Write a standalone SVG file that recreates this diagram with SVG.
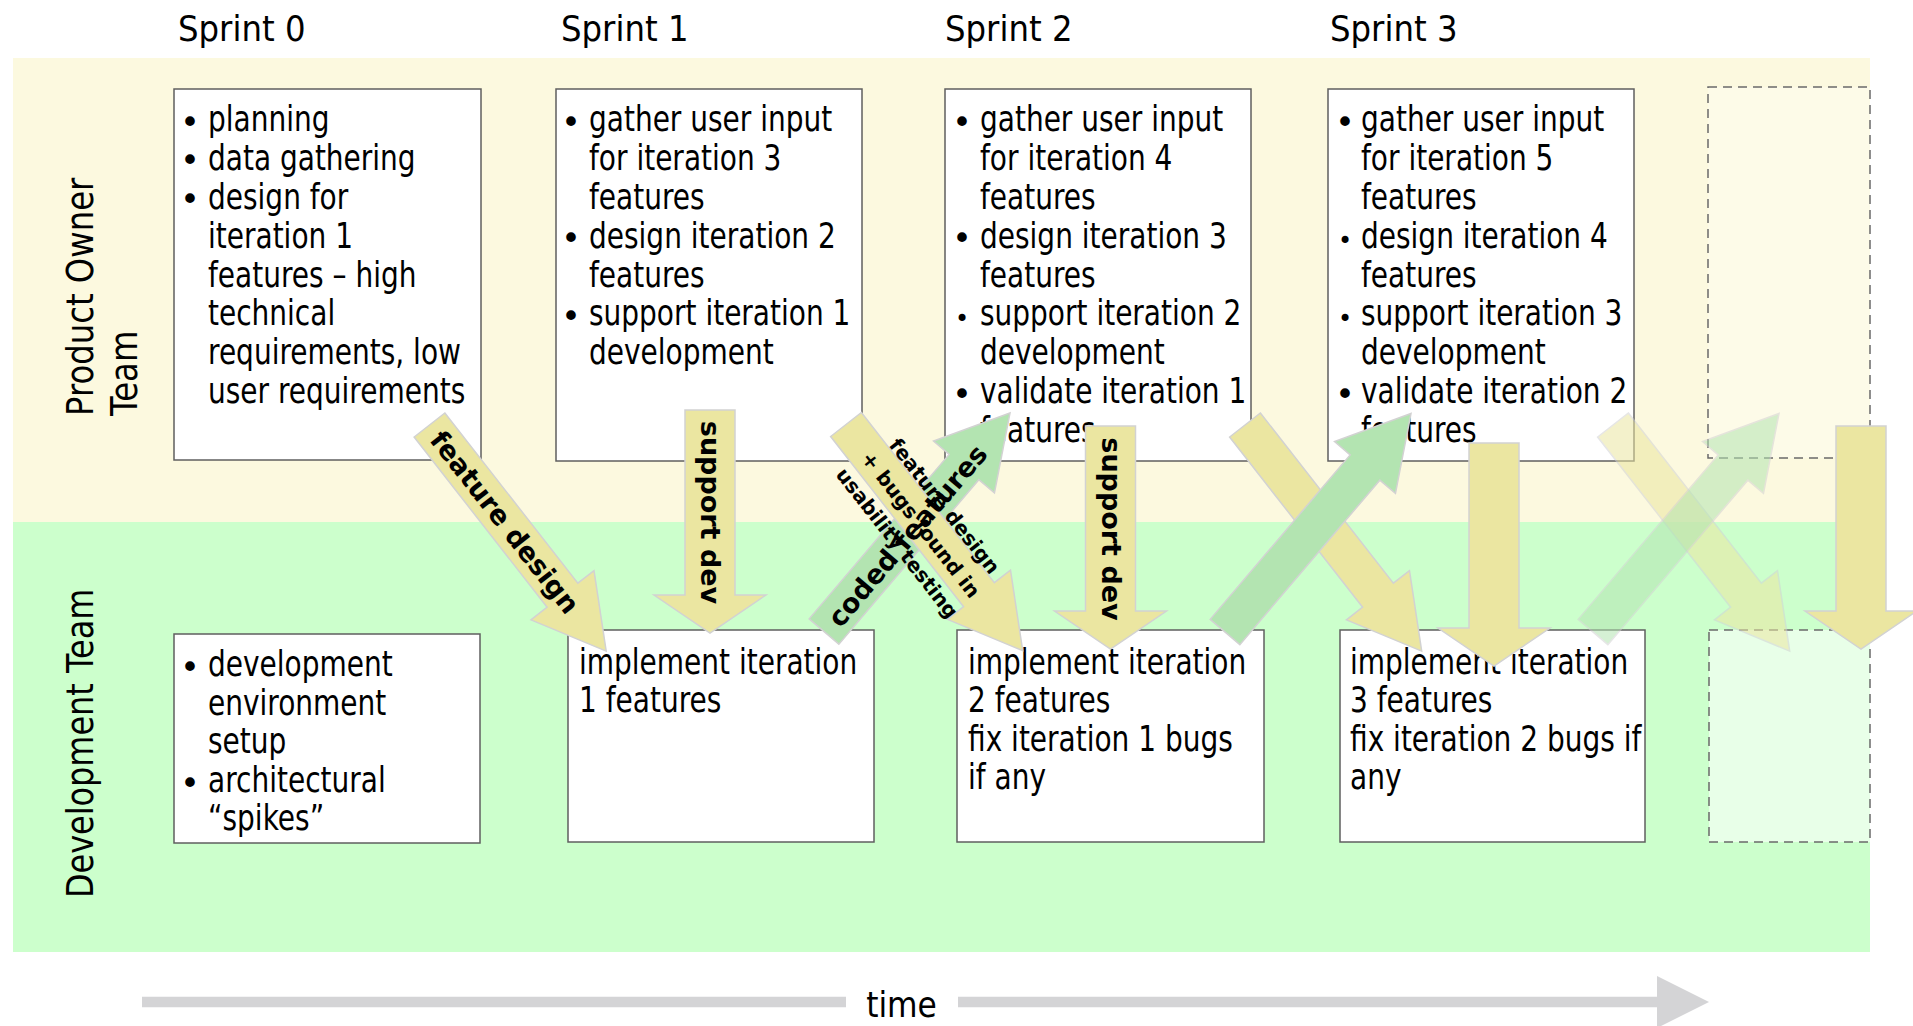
<svg xmlns="http://www.w3.org/2000/svg" xmlns:xlink="http://www.w3.org/1999/xlink" width="1913" height="1026" viewBox="0 0 1913 1026">
  <style>
    .band-po { fill: #FCF9DF; }
    .band-dev { fill: #CCFFCC; }
    .box { fill: #FFFFFF; stroke: #5F5F5F; stroke-width: 1.5; }
    .ghost { stroke: #6A6A6A; stroke-width: 1.5; stroke-dasharray: 9 6; }
    .txt { font-family: "DejaVu Sans", Verdana, sans-serif; fill: #000000; }
    .body { font-size: 35px; }
    .bul { font-size: 33px; text-anchor: middle; }
    .bul-s { font-size: 24px; }
    .head { font-size: 36px; }
    .lane { font-size: 38px; }
    .lbl { font-weight: bold; font-size: 27px; text-anchor: middle; }
    .lbl-s { font-size: 20px; }
    .ya { fill: #EBE6A1; stroke: #D2D2D2; stroke-width: 1.5; }
    .ga { fill: #B3E4B1; stroke: #D2D2D2; stroke-width: 1.5; }
    .faded { opacity: 0.55; }
    .timeline { fill: #D4D4D6; }
  </style>
  <defs>
    <!-- block arrow pointing along +x, tail at origin -->
    <path id="diag" d="M0,-19.5 H216 V-40 L287,0 L216,40 V19.5 H0 Z"/>
    <!-- block arrow pointing down, tail centre at origin -->
    <path id="vert" d="M-25,0 H25 V185 H56 L0,223 L-56,185 H-25 Z"/>
  </defs>

  <rect width="1913" height="1026" fill="#FFFFFF"/>

  <!-- swim lanes -->
  <g id="lanes">
    <rect class="band-po" x="13" y="58" width="1857" height="464"/>
    <rect class="band-dev" x="13" y="522" width="1857" height="430"/>
    <g transform="translate(93 416) rotate(-90) scale(0.85 1)">
      <text class="txt lane" x="0" y="0">Product Owner</text>
      <text class="txt lane" x="0" y="44">Team</text>
    </g>
    <g transform="translate(93 898) rotate(-90) scale(0.84 1)">
      <text class="txt lane" x="0" y="0">Development Team</text>
    </g>
  </g>

  <!-- sprint headings -->
  <g id="headings">
    <g transform="translate(178 41) scale(0.9 1)"><text class="txt head" x="0" y="0">Sprint 0</text></g>
    <g transform="translate(561 41) scale(0.9 1)"><text class="txt head" x="0" y="0">Sprint 1</text></g>
    <g transform="translate(945 41) scale(0.9 1)"><text class="txt head" x="0" y="0">Sprint 2</text></g>
    <g transform="translate(1330 41) scale(0.9 1)"><text class="txt head" x="0" y="0">Sprint 3</text></g>
  </g>

  <!-- product owner tasks -->
  <g id="po-sprint0">
    <rect class="box" x="174" y="89" width="307" height="371"/>
    <text class="txt bul"><tspan x="190" y="133.5">•</tspan><tspan x="190" y="172.4">•</tspan><tspan x="190" y="211.3">•</tspan></text>
    <g transform="translate(208 0) scale(0.8 1)">
      <text class="txt body">
        <tspan x="0" y="131">planning</tspan>
        <tspan x="0" y="169.9">data gathering</tspan>
        <tspan x="0" y="208.8">design for</tspan>
        <tspan x="0" y="247.7">iteration 1</tspan>
        <tspan x="0" y="286.6">features – high</tspan>
        <tspan x="0" y="325.5">technical</tspan>
        <tspan x="0" y="364.4">requirements, low</tspan>
        <tspan x="0" y="403.3">user requirements</tspan>
      </text>
    </g>
  </g>

  <g id="po-sprint1">
    <rect class="box" x="556" y="89" width="306" height="372"/>
    <text class="txt bul"><tspan x="571" y="133.5">•</tspan><tspan x="571" y="250.2">•</tspan><tspan x="571" y="328">•</tspan></text>
    <g transform="translate(589 0) scale(0.8 1)">
      <text class="txt body">
        <tspan x="0" y="131">gather user input</tspan>
        <tspan x="0" y="169.9">for iteration 3</tspan>
        <tspan x="0" y="208.8">features</tspan>
        <tspan x="0" y="247.7">design iteration 2</tspan>
        <tspan x="0" y="286.6">features</tspan>
        <tspan x="0" y="325.5">support iteration 1</tspan>
        <tspan x="0" y="364.4">development</tspan>
      </text>
    </g>
  </g>

  <g id="po-sprint2">
    <rect class="box" x="945" y="89" width="306" height="372"/>
    <text class="txt bul"><tspan x="962" y="133.5">•</tspan><tspan x="962" y="250.2">•</tspan><tspan x="962" y="405.8">•</tspan></text>
    <text class="txt bul bul-s"><tspan x="962" y="327">•</tspan></text>
    <g transform="translate(980 0) scale(0.8 1)">
      <text class="txt body">
        <tspan x="0" y="131">gather user input</tspan>
        <tspan x="0" y="169.9">for iteration 4</tspan>
        <tspan x="0" y="208.8">features</tspan>
        <tspan x="0" y="247.7">design iteration 3</tspan>
        <tspan x="0" y="286.6">features</tspan>
        <tspan x="0" y="325.5">support iteration 2</tspan>
        <tspan x="0" y="364.4">development</tspan>
        <tspan x="0" y="403.3">validate iteration 1</tspan>
        <tspan x="0" y="442.2">features</tspan>
      </text>
    </g>
  </g>

  <g id="po-sprint3">
    <rect class="box" x="1328" y="89" width="306" height="372"/>
    <text class="txt bul"><tspan x="1345" y="133.5">•</tspan><tspan x="1345" y="405.8">•</tspan></text>
    <text class="txt bul bul-s"><tspan x="1345" y="249.2">•</tspan><tspan x="1345" y="327">•</tspan></text>
    <g transform="translate(1361 0) scale(0.8 1)">
      <text class="txt body">
        <tspan x="0" y="131">gather user input</tspan>
        <tspan x="0" y="169.9">for iteration 5</tspan>
        <tspan x="0" y="208.8">features</tspan>
        <tspan x="0" y="247.7">design iteration 4</tspan>
        <tspan x="0" y="286.6">features</tspan>
        <tspan x="0" y="325.5">support iteration 3</tspan>
        <tspan x="0" y="364.4">development</tspan>
        <tspan x="0" y="403.3">validate iteration 2</tspan>
        <tspan x="0" y="442.2">features</tspan>
      </text>
    </g>
  </g>

  <g id="po-next">
    <rect class="ghost" x="1708" y="87" width="162" height="371" fill="#FFFFFF" fill-opacity="0.3"/>
  </g>

  <!-- development tasks -->
  <g id="dev-sprint0">
    <rect class="box" x="174" y="634" width="306" height="209"/>
    <text class="txt bul"><tspan x="190" y="679">•</tspan><tspan x="190" y="794.5">•</tspan></text>
    <g transform="translate(208 0) scale(0.8 1)">
      <text class="txt body">
        <tspan x="0" y="676.5">development</tspan>
        <tspan x="0" y="715">environment</tspan>
        <tspan x="0" y="753.5">setup</tspan>
        <tspan x="0" y="792">architectural</tspan>
        <tspan x="0" y="830.5">“spikes”</tspan>
      </text>
    </g>
  </g>

  <g id="dev-sprint1">
    <rect class="box" x="568" y="630" width="306" height="212"/>
    <g transform="translate(579 0) scale(0.8 1)">
      <text class="txt body">
        <tspan x="0" y="674">implement iteration</tspan>
        <tspan x="0" y="712.5">1 features</tspan>
      </text>
    </g>
  </g>

  <g id="dev-sprint2">
    <rect class="box" x="957" y="630" width="307" height="212"/>
    <g transform="translate(968 0) scale(0.8 1)">
      <text class="txt body">
        <tspan x="0" y="674">implement iteration</tspan>
        <tspan x="0" y="712.5">2 features</tspan>
        <tspan x="0" y="751">fix iteration 1 bugs</tspan>
        <tspan x="0" y="789.5">if any</tspan>
      </text>
    </g>
  </g>

  <g id="dev-sprint3">
    <rect class="box" x="1340" y="630" width="305" height="212"/>
    <g transform="translate(1350 0) scale(0.8 1)">
      <text class="txt body">
        <tspan x="0" y="674">implement iteration</tspan>
        <tspan x="0" y="712.5">3 features</tspan>
        <tspan x="0" y="751">fix iteration 2 bugs if</tspan>
        <tspan x="0" y="789.5">any</tspan>
      </text>
    </g>
  </g>

  <g id="dev-next">
    <rect class="ghost" x="1709" y="630" width="161" height="212" fill="#FFFFFF" fill-opacity="0.55"/>
  </g>

  <!-- hand-offs between the teams -->
  <g id="connectors">
    <!-- sprint 0 -> 1 -->
    <use xlink:href="#diag" class="ya" transform="translate(429.5 425) rotate(52)"/>
    <use xlink:href="#vert" class="ya" transform="translate(710 410)"/>

    <!-- sprint 1 -> 2 -->
    <use xlink:href="#diag" class="ga" transform="translate(824 631.5) rotate(-49.6)"/>
    <use xlink:href="#diag" class="ya" transform="translate(846 424.5) rotate(52)"/>
    <use xlink:href="#vert" class="ya" transform="translate(1110.5 426)"/>

    <!-- sprint 2 -> 3 -->
    <use xlink:href="#diag" class="ya" transform="translate(1245 425) rotate(52)"/>
    <use xlink:href="#diag" class="ga" transform="translate(1225 632) rotate(-49.6)"/>
    <use xlink:href="#vert" class="ya" transform="translate(1494 443)"/>

    <!-- sprint 3 -> next -->
    <use xlink:href="#diag" class="ya faded" transform="translate(1613 425) rotate(52)"/>
    <use xlink:href="#diag" class="ga faded" transform="translate(1593 632) rotate(-49.6)"/>
    <use xlink:href="#vert" class="ya" transform="translate(1861 426)"/>

    <!-- arrow labels -->
    <g transform="translate(429.5 425) rotate(52)">
      <text class="txt lbl" x="123" y="10">feature design</text>
    </g>
    <g transform="translate(710 410) rotate(90)">
      <text class="txt lbl" x="102.5" y="9">support dev</text>
    </g>
    <g transform="translate(824 631.5) rotate(-49.6)">
      <text class="txt lbl" x="127" y="11">coded features</text>
    </g>
    <g transform="translate(846 424.5) rotate(52)">
      <text class="txt lbl lbl-s" x="125" y="-20.5">feature design</text>
      <text class="txt lbl lbl-s" x="125" y="9.7">+ bugs found in</text>
      <text class="txt lbl lbl-s" x="125" y="39.6">usability testing</text>
    </g>
    <g transform="translate(1110.5 426) rotate(90)">
      <text class="txt lbl" x="103" y="9">support dev</text>
    </g>
  </g>

  <!-- time axis -->
  <g id="time-axis">
    <rect class="timeline" x="142" y="996.75" width="704" height="10.5"/>
    <rect class="timeline" x="958" y="996.75" width="699" height="10.5"/>
    <polygon class="timeline" points="1657,976 1709,1002 1657,1028"/>
    <g transform="translate(901.5 1017) scale(0.87 1)">
      <text class="txt head" x="0" y="0" text-anchor="middle">time</text>
    </g>
  </g>
</svg>
